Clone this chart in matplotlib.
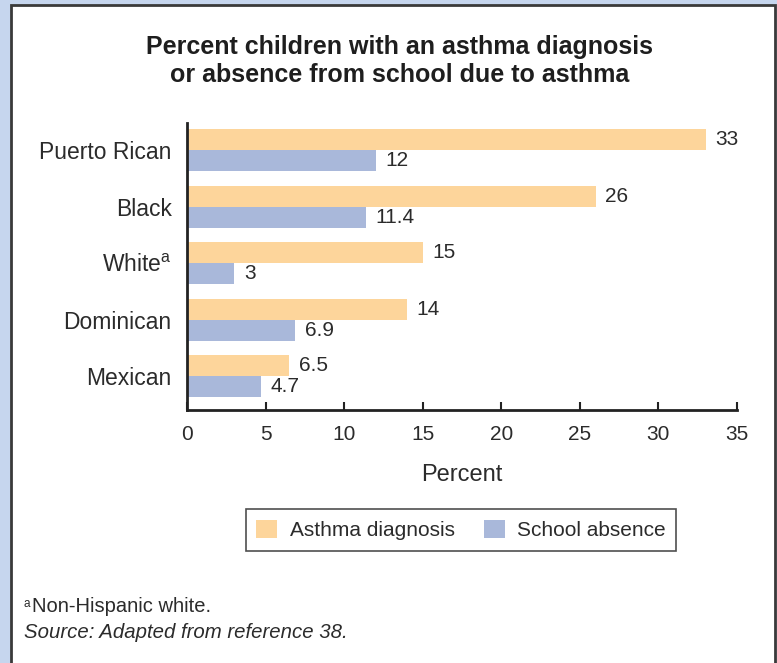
import matplotlib
matplotlib.use("Agg")
import matplotlib.pyplot as plt
from matplotlib.patches import Rectangle, Patch

plt.rcParams['font.family'] = ['Liberation Sans', 'DejaVu Sans']

categories = ["Puerto Rican", "Black", "White$^{\\mathregular{a}}$", "Dominican", "Mexican"]
asthma_diagnosis = [33, 26, 15, 14, 6.5]
school_absence = [12, 11.4, 3, 6.9, 4.7]
value_labels_diag = ["33", "26", "15", "14", "6.5"]
value_labels_abs = ["12", "11.4", "3", "6.9", "4.7"]
xticks = [0, 5, 10, 15, 20, 25, 30, 35]

W, H = 777, 663
fig = plt.figure(figsize=(W / 100, H / 100), dpi=100)
fig.patch.set_facecolor("#c6d6ee")

# white panel with dark border
panel = Rectangle((11 / W, -0.05), (775 - 11) / W, (H - 5) / H + 0.05,
                  transform=fig.transFigure, facecolor="white",
                  edgecolor="#3a3a3a", linewidth=2, zorder=-10)
fig.patches.append(panel)

text_col = "#2b2b2b"
orange = "#fdd59b"
blue = "#a9b8da"

ax = fig.add_axes([187 / W, 1 - 410 / H, (737 - 187) / W, (410 - 123) / H])
ax.set_facecolor("none")
ax.set_zorder(2)

y = list(range(len(categories)))
bh = 0.37
ax.barh([i - bh / 2 for i in y], asthma_diagnosis, height=bh, color=orange, zorder=2)
ax.barh([i + bh / 2 for i in y], school_absence, height=bh, color=blue, zorder=2)

for i in y:
    ax.annotate(value_labels_diag[i], (asthma_diagnosis[i], i - bh / 2),
                xytext=(7, 0), textcoords="offset points", va="center", ha="left",
                fontsize=15, color=text_col)
    ax.annotate(value_labels_abs[i], (school_absence[i], i + bh / 2),
                xytext=(7, 0), textcoords="offset points", va="center", ha="left",
                fontsize=15, color=text_col)

ax.set_xlim(0, 35)
ax.set_ylim(4.6, -0.48)
ax.set_yticks(y)
ax.set_yticklabels(categories, fontsize=16.5, color=text_col)
ax.set_xticks(xticks)
ax.set_xticklabels([str(t) for t in xticks], fontsize=15, color=text_col)
ax.tick_params(axis="y", length=0, pad=11)
ax.tick_params(axis="x", direction="in", length=6, width=1.5, color="#222222", pad=11)
for s in ("top", "right"):
    ax.spines[s].set_visible(False)
for s in ("left", "bottom"):
    ax.spines[s].set_linewidth(2)
    ax.spines[s].set_color("#222222")
ax.set_xlabel("Percent", fontsize=17, color=text_col, labelpad=14)

fig.text(400 / W, 1 - 61 / H, "Percent children with an asthma diagnosis\nor absence from school due to asthma",
         ha="center", va="center", fontsize=18, fontweight="bold", color="#1e1e1e",
         linespacing=1.22)

handles = [Patch(facecolor=orange, edgecolor="none", label="Asthma diagnosis"),
           Patch(facecolor=blue, edgecolor="none", label="School absence")]
leg = fig.legend(handles=handles, loc="center", bbox_to_anchor=(461 / W, 1 - 530 / H),
                 ncol=2, fontsize=15, frameon=True, fancybox=False, edgecolor="#222222",
                 handlelength=1.0, handleheight=1.0, columnspacing=1.4, borderpad=0.5,
                 handletextpad=0.6)
leg.get_frame().set_linewidth(1.2)
for t in leg.get_texts():
    t.set_color(text_col)

fig.text(24 / W, 1 - 604 / H, "a", fontsize=8.5, color=text_col, ha="left", va="center")
fig.text(32 / W, 1 - 607 / H, "Non-Hispanic white.", fontsize=14.5,
         color=text_col, ha="left", va="center")
fig.text(24 / W, 1 - 632 / H, "Source: Adapted from reference 38.", fontsize=14.7,
         color=text_col, ha="left", va="center", style="italic")

fig.savefig("out.png", dpi=100, facecolor=fig.get_facecolor())
